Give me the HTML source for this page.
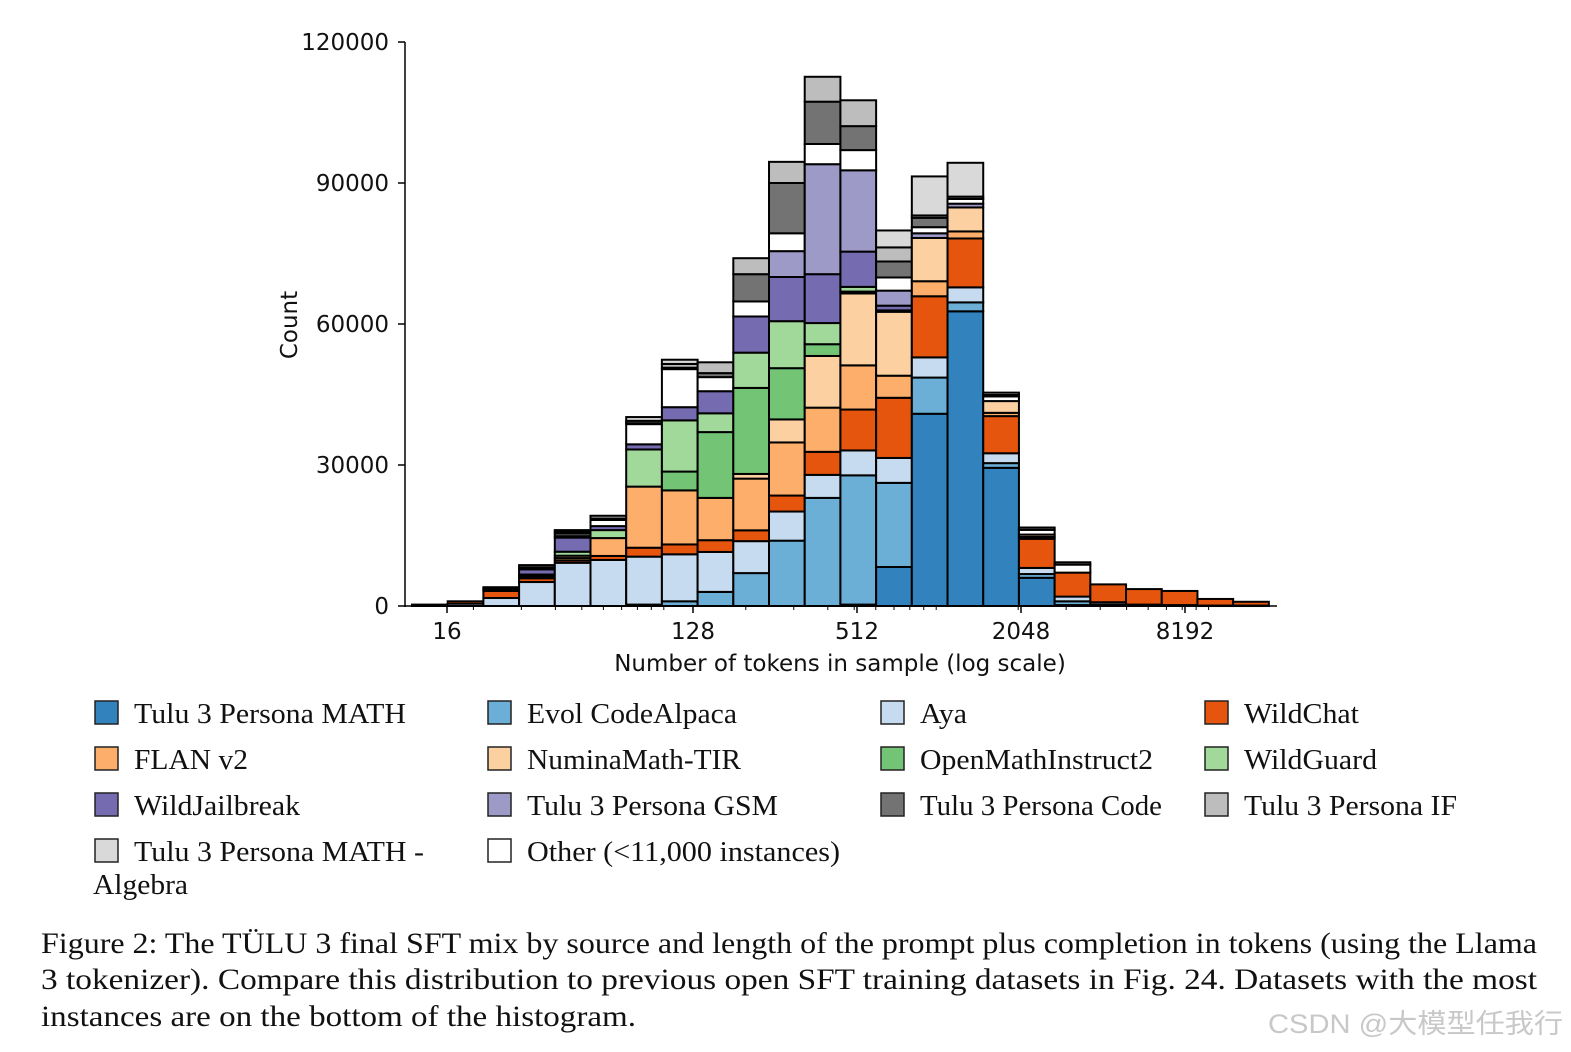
<!DOCTYPE html>
<html><head><meta charset="utf-8">
<style>
html,body{margin:0;padding:0;background:#fff;}
svg{display:block;}
</style></head>
<body>
<svg id="chart" width="1571" height="1052" viewBox="0 0 1571 1052" xmlns="http://www.w3.org/2000/svg">
<g id="bars"></g>
<g id="axes"></g>
<g id="legend"></g>
<g font-family="'Liberation Serif', serif" font-size="30" fill="#111">
<text x="41" y="953" textLength="1496" lengthAdjust="spacingAndGlyphs">Figure 2: The TÜLU 3 final SFT mix by source and length of the prompt plus completion in tokens (using the Llama</text>
<text x="41" y="989" textLength="1496" lengthAdjust="spacingAndGlyphs">3 tokenizer). Compare this distribution to previous open SFT training datasets in Fig. 24. Datasets with the most</text>
<text x="41" y="1026" textLength="595" lengthAdjust="spacingAndGlyphs">instances are on the bottom of the histogram.</text>
</g>
<text x="1268" y="1033" font-family="'Liberation Sans','Noto Sans CJK SC',sans-serif" font-size="27" fill="#c8c8c8" textLength="295" lengthAdjust="spacingAndGlyphs">CSDN @大模型任我行</text>
</svg>
<script>
// ---- data ----
const seriesNames = ["Tulu 3 Persona MATH","Evol CodeAlpaca","Aya","WildChat","FLAN v2","NuminaMath-TIR","OpenMathInstruct2","WildGuard","WildJailbreak","Tulu 3 Persona GSM","Other (<11,000 instances)","Tulu 3 Persona Code","Tulu 3 Persona IF","Tulu 3 Persona MATH - Algebra"];
const seriesColors = ["#3182bd","#6baed6","#c6dbef","#e6550d","#fdae6b","#fdd0a2","#74c476","#a1d99b","#756bb1","#9e9ac8","#ffffff","#737373","#bdbdbd","#d9d9d9"];
// bin left edges in log2(tokens)
const binStartLog2 = 3.573;
const binWidthLog2 = 0.4354;
// counts per bin (thousands) for each series, 24 bins
const sMath    = [0,0,0,0,0,0,0,0,0,0,0,0,0.3,8.3,40.9,62.7,29.4,6.0,0.2,0,0,0,0,0];
const sEvol    = [0,0,0,0,0,0,0.3,1.0,3.0,7.0,13.9,23.0,27.5,17.9,7.7,1.9,1.0,0.8,0.8,0.3,0,0,0,0];
const sAya     = [0.3,0.5,1.7,5.1,9.2,9.8,10.2,10.0,8.5,6.8,6.2,4.9,5.3,5.3,4.3,3.2,2.1,1.3,1.0,0.5,0.3,0.2,0.1,0.1];
const sWildChat= [0,0.5,1.5,0.8,0.5,0.85,1.9,2.1,2.5,2.3,3.4,4.9,8.7,12.8,13.0,10.4,7.9,6.2,5.1,3.8,3.3,3.0,1.4,0.8];
const sFlan    = [0,0,0,0.3,0.5,3.8,13.0,11.5,9.0,11.0,11.3,9.4,9.4,4.7,3.2,1.5,0.7,0.4,0,0,0,0,0,0];
const sNumina  = [0,0,0,0.3,0.5,0,0,0,0,1.0,4.9,11.0,15.3,13.6,9.2,5.1,2.5,0.5,0,0,0,0,0,0];
const sOpenMath= [0,0,0,0.2,0,0,0,4.0,14.0,18.3,10.9,2.5,0.4,0.3,0,0,0,0,0,0,0,0,0,0];
const sGuard   = [0,0,0,0,0.85,1.7,7.9,10.9,4.0,7.5,10.0,4.5,1.0,0,0,0,0,0,0,0,0,0,0,0];
const sJail    = [0,0,0.3,1.1,3.0,0.85,1.1,2.8,4.7,7.7,9.4,10.4,7.5,1.0,0,0,0,0,0,0,0,0,0,0];
const sGsm     = [0,0,0,0,0,0,0,0,0,0,5.5,23.4,17.3,3.2,1.0,0.8,0,0,0,0,0,0,0,0];
const sOther   = [0,0,0.3,0.4,0.3,1.3,4.3,8.1,3.0,3.2,3.8,4.3,4.3,2.8,1.3,1.0,1.0,1.0,1.7,0,0,0,0,0];
const sCode    = [0,0,0.2,0.5,0.6,0.3,0.2,0.3,0.85,5.8,10.7,9.0,5.1,3.4,2.0,0.5,0.3,0.5,0.5,0,0,0,0,0];
const sIf      = [0,0,0,0,0.4,0.6,0.5,0.8,2.3,3.4,4.5,5.3,5.5,3.0,0.5,0,0.5,0,0,0,0,0,0,0];
const sAlgebra = [0,0,0,0,0.3,0,0.8,0.9,0,0,0,0,0,3.6,8.3,7.2,0,0,0,0,0,0,0,0,0];
const seriesValues = [sMath,sEvol,sAya,sWildChat,sFlan,sNumina,sOpenMath,sGuard,sJail,sGsm,sOther,sCode,sIf,sAlgebra];
const yTicks = [0,30000,60000,90000,120000];
const xTicks = [16,128,512,2048,8192];
const legendOrder = [0,1,2,3,4,5,6,7,8,9,11,12,13,10];

// ---- axes ----
const NS="http://www.w3.org/2000/svg";
const X0=447, PX_PER_OCT=82, Y0=606, PX_PER_UNIT=564/120000;
function xLog(l){return X0+(l-4)*PX_PER_OCT;}
function xScale(v){return xLog(Math.log2(v));}
function yScale(v){return Y0-v*PX_PER_UNIT;}
function mk(tag,attrs,parent){const e=document.createElementNS(NS,tag);for(const k in attrs)e.setAttribute(k,attrs[k]);parent.appendChild(e);return e;}

const bars=document.getElementById('bars');
for(let b=0;b<sAya.length;b++){
  const xl=xLog(binStartLog2+b*binWidthLog2), xr=xLog(binStartLog2+(b+1)*binWidthLog2);
  let cum=0;
  for(let s=0;s<seriesValues.length;s++){
    const v=seriesValues[s][b]*1000;
    if(!v)continue;
    const y1=yScale(cum), y2=yScale(cum+v);
    const r=mk('rect',{x:xl,y:y2,width:xr-xl,height:Math.max(y1-y2,0.5),fill:seriesColors[s],stroke:'#000','stroke-width':2},bars);
    
    
    cum+=v;
  }
}

const axes=document.getElementById('axes');
const font="'DejaVu Sans', sans-serif";
let l=mk('line',{x1:405,y1:42,x2:405,y2:607,stroke:'#000','stroke-width':1.5},axes);


l=mk('line',{x1:404,y1:606,x2:1277,y2:606,stroke:'#000','stroke-width':1.5},axes);


yTicks.forEach(v=>{
  const y=yScale(v);
  mk('line',{x1:398,y1:y,x2:405,y2:y,stroke:'#000','stroke-width':1.5},axes);
  const t=mk('text',{x:389,y:y+8,'text-anchor':'end','font-family':font,'font-size':23,fill:'#111'},axes);
  t.textContent=v;
  
  
});
// minor ticks
for(let e=1;e<=4;e++){for(let m=1;m<=9;m++){const v=m*Math.pow(10,e);const x=xScale(v);if(x<406||x>1276)continue;mk('line',{x1:x,y1:606,x2:x,y2:610,stroke:'#000','stroke-width':1},axes);}}
xTicks.forEach(v=>{
  const x=xScale(v);
  mk('line',{x1:x,y1:606,x2:x,y2:613,stroke:'#000','stroke-width':1.5},axes);
  const t=mk('text',{x:x,y:639,'text-anchor':'middle','font-family':font,'font-size':23,fill:'#111'},axes);
  t.textContent=v;
  
  
});
let t=mk('text',{x:840,y:671,'text-anchor':'middle','font-family':font,'font-size':23,fill:'#111'},axes);
t.textContent='Number of tokens in sample (log scale)';


t=mk('text',{x:0,y:0,'text-anchor':'middle','font-family':font,'font-size':23,fill:'#111',transform:'translate(297,325) rotate(-90)'},axes);
t.textContent='Count';



// ---- legend ----
const legend=document.getElementById('legend');
const colX=[95,488,881,1205], rowY=[713,759,805,851];
const textW={0:272,1:210,2:47,3:115,4:114,5:214,6:233,7:133,8:166,9:251,11:242,12:213,13:290,10:313};
legendOrder.forEach((s,i)=>{
  const c=i%4, r=Math.floor(i/4);
  const g=mk('g',{},legend);
  
  
  mk('rect',{x:colX[c],y:rowY[r]-12,width:23,height:23,fill:seriesColors[s],stroke:'#222','stroke-width':1.5},g);
  let name=seriesNames[s];
  if(s===13) name='Tulu 3 Persona MATH -';
  const tx=mk('text',{x:colX[c]+39,y:rowY[r]+10,'font-family':"'Liberation Serif', serif",'font-size':29,fill:'#111',textLength:textW[s],lengthAdjust:'spacingAndGlyphs'},g);
  tx.textContent=name;
  if(s===13){
    const t2=mk('text',{x:93,y:rowY[r]+43,'font-family':"'Liberation Serif', serif",'font-size':29,fill:'#111',textLength:95,lengthAdjust:'spacingAndGlyphs'},g);
    t2.textContent='Algebra';
  }
});
</script>
</body></html>
